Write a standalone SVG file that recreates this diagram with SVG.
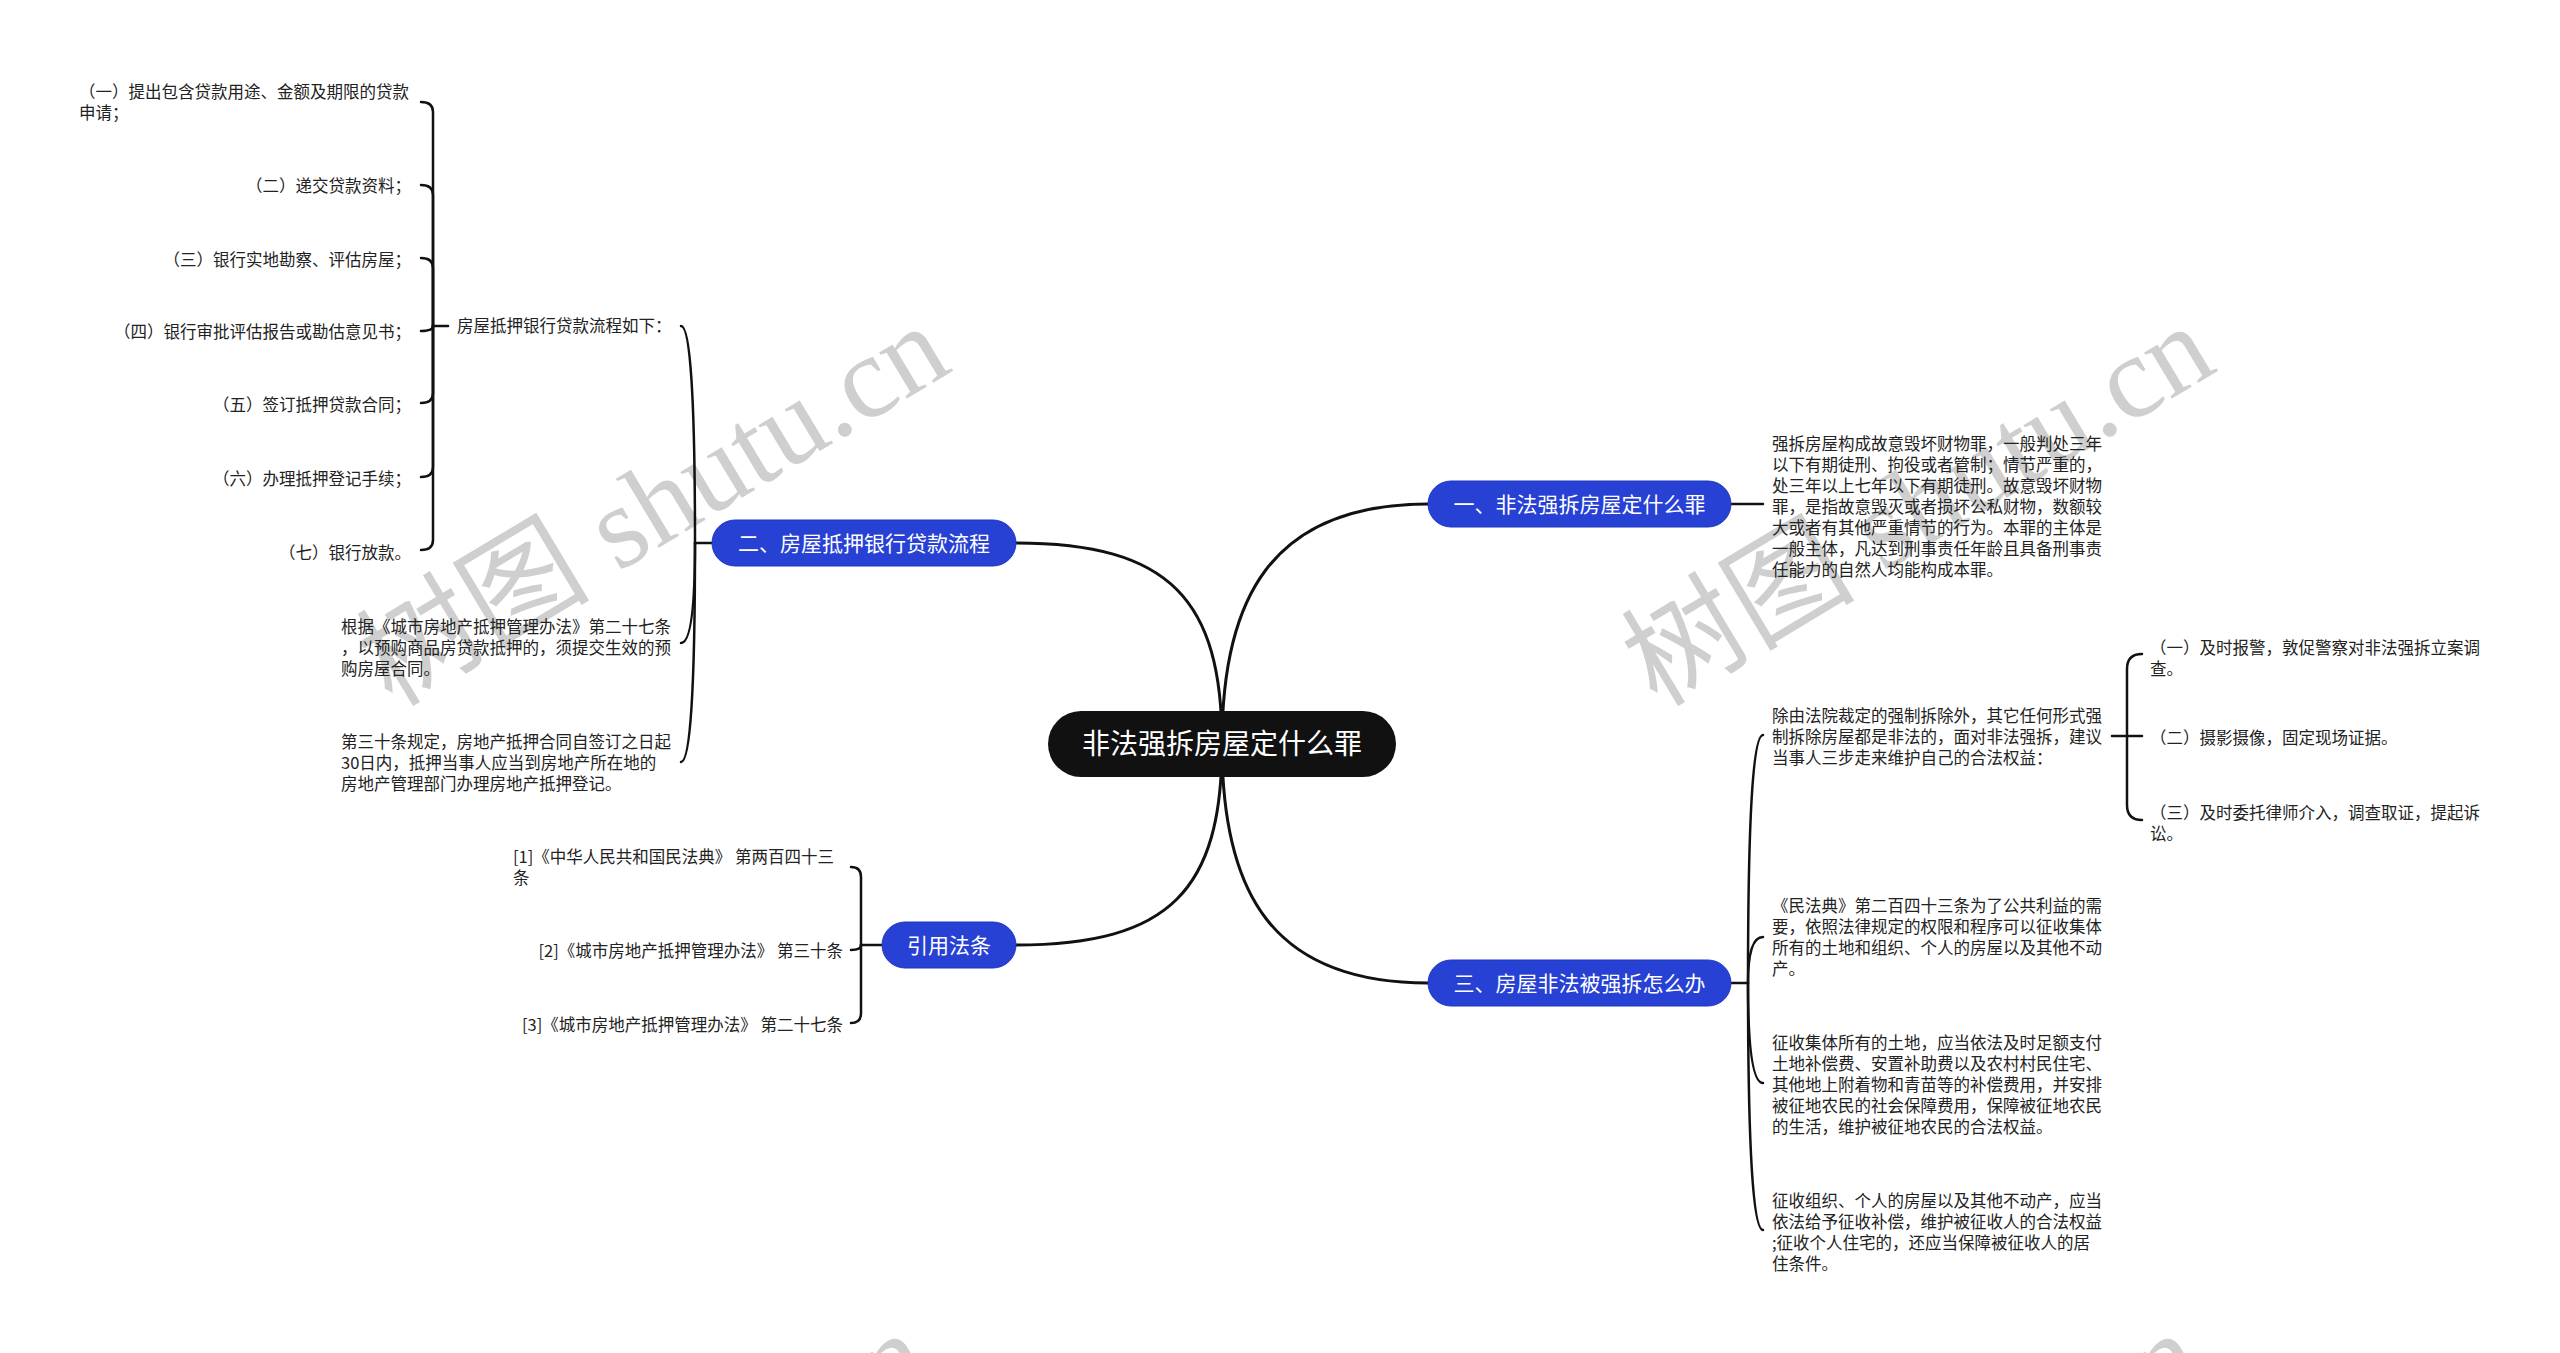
<svg xmlns="http://www.w3.org/2000/svg" width="2560" height="1353" viewBox="0 0 2560 1353">
<style>
.t{font-family:"Noto Sans CJK SC","Noto Sans",sans-serif;font-size:16.5px;fill:#222}
.r{text-anchor:end}
.ln{fill:none;stroke:#111;stroke-width:2.5;stroke-linecap:round}
.main{fill:none;stroke:#111;stroke-width:3;stroke-linecap:round}
.nb{fill:#2741d4;stroke:#1f37bd;stroke-width:1}
.nt{font-family:"Noto Sans CJK SC","Noto Sans",sans-serif;font-size:21px;fill:#fff;text-anchor:middle}
.wm{font-family:"Liberation Serif","Noto Sans CJK SC",serif;font-size:117px;fill:#cfcfcf}
</style>
<rect width="2560" height="1353" fill="#fff"/>
<g id="watermarks">
<text class="wm" transform="translate(392,708) rotate(-31)">树图 shutu.cn</text>
<text class="wm" transform="translate(1657,708) rotate(-31)">树图 shutu.cn</text>
<text class="wm" transform="translate(372,1715) rotate(-31)">树图 shutu.cn</text>
<text class="wm" transform="translate(1645,1715) rotate(-31)">树图 shutu.cn</text>
</g>
<g id="connectors">
<path class="main" d="M1222,744 C1222,600 1270,504 1428,504"/>
<path class="main" d="M1222,744 C1222,600 1170,543 1016,543"/>
<path class="main" d="M1222,744 C1222,890 1270,983 1428,983"/>
<path class="main" d="M1222,744 C1222,890 1170,945 1016,945"/>
<path class="ln" d="M1731,504 H1763"/>
<path class="ln" d="M712,543 H695"/>
<path class="ln" d="M695,543 Q695,326 681,326"/>
<path class="ln" d="M695,543 Q695,643 681,643"/>
<path class="ln" d="M695,543 Q695,762 681,762"/>
<path class="ln" d="M448,326 H433"/>
<path class="ln" d="M433,326 V112 Q433,102 421,102"/>
<path class="ln" d="M433,326 V195 Q433,185 421,185"/>
<path class="ln" d="M433,326 V268 Q433,258 421,258"/>
<path class="ln" d="M433,326 Q433,331 421,331"/>
<path class="ln" d="M433,326 V393 Q433,403 421,403"/>
<path class="ln" d="M433,326 V467 Q433,477 421,477"/>
<path class="ln" d="M433,326 V540 Q433,550 421,550"/>
<path class="ln" d="M1731,983 H1748"/>
<path class="ln" d="M1748,983 Q1748,735 1763,735"/>
<path class="ln" d="M1748,983 Q1748,937 1763,937"/>
<path class="ln" d="M1748,983 Q1748,1083 1763,1083"/>
<path class="ln" d="M1748,983 Q1748,1230 1763,1230"/>
<path class="ln" d="M2112,736 H2127"/>
<path class="ln" d="M2127,736 V669 Q2127,654 2142,654"/>
<path class="ln" d="M2127,736 H2142"/>
<path class="ln" d="M2127,736 V805 Q2127,820 2142,820"/>
<path class="ln" d="M882,945 H861"/>
<path class="ln" d="M861,945 V877 Q861,867 851,867"/>
<path class="ln" d="M861,945 Q861,950 851,950"/>
<path class="ln" d="M861,945 V1013 Q861,1023 851,1023"/>
</g>
<g id="center">
<rect x="1048" y="711" width="348" height="66" rx="33" fill="#111"/>
<text x="1222" y="754" class="nt" style="font-size:28px">非法强拆房屋定什么罪</text>
</g>
<g id="n1">
<rect class="nb" x="1428" y="481" width="303" height="46" rx="23"/>
<text class="nt" x="1579.5" y="511.5">一、非法强拆房屋定什么罪</text>
</g>
<g id="n2">
<rect class="nb" x="712" y="520" width="304" height="46" rx="23"/>
<text class="nt" x="864" y="550.5">二、房屋抵押银行贷款流程</text>
</g>
<g id="n3">
<rect class="nb" x="1428" y="960" width="303" height="46" rx="23"/>
<text class="nt" x="1579.5" y="990.5">三、房屋非法被强拆怎么办</text>
</g>
<g id="n4">
<rect class="nb" x="882" y="922" width="134" height="46" rx="23"/>
<text class="nt" x="949" y="952.5">引用法条</text>
</g>
<g id="n1c1">
<text class="t"><tspan x="1772" y="450">强拆房屋构成故意毁坏财物罪，一般判处三年</tspan><tspan x="1772" y="471">以下有期徒刑、拘役或者管制；情节严重的，</tspan><tspan x="1772" y="492">处三年以上七年以下有期徒刑。故意毁坏财物</tspan><tspan x="1772" y="513">罪，是指故意毁灭或者损坏公私财物，数额较</tspan><tspan x="1772" y="534">大或者有其他严重情节的行为。本罪的主体是</tspan><tspan x="1772" y="555">一般主体，凡达到刑事责任年龄且具备刑事责</tspan><tspan x="1772" y="576">任能力的自然人均能构成本罪。</tspan></text>
</g>
<g id="n2c1">
<text class="t r" x="671.5" y="332">房屋抵押银行贷款流程如下：</text>
</g>
<g id="n2c1a"><text class="t"><tspan x="79" y="98">（一）提出包含贷款用途、金额及期限的贷款</tspan><tspan x="79" y="119">申请；</tspan></text></g>
<g id="n2c1b"><text class="t r" x="411" y="192">（二）递交贷款资料；</text></g>
<g id="n2c1c"><text class="t r" x="411" y="266">（三）银行实地勘察、评估房屋；</text></g>
<g id="n2c1d"><text class="t r" x="411" y="338">（四）银行审批评估报告或勘估意见书；</text></g>
<g id="n2c1e"><text class="t r" x="411" y="411">（五）签订抵押贷款合同；</text></g>
<g id="n2c1f"><text class="t r" x="411" y="485">（六）办理抵押登记手续；</text></g>
<g id="n2c1g"><text class="t r" x="411" y="559">（七）银行放款。</text></g>
<g id="n2c2">
<text class="t"><tspan x="341" y="633">根据《城市房地产抵押管理办法》第二十七条</tspan><tspan x="341" y="654">，以预购商品房贷款抵押的，须提交生效的预</tspan><tspan x="341" y="675">购房屋合同。</tspan></text>
</g>
<g id="n2c3">
<text class="t"><tspan x="341" y="748">第三十条规定，房地产抵押合同自签订之日起</tspan><tspan x="341" y="769">30日内，抵押当事人应当到房地产所在地的</tspan><tspan x="341" y="790">房地产管理部门办理房地产抵押登记。</tspan></text>
</g>
<g id="n3c1">
<text class="t"><tspan x="1772" y="722">除由法院裁定的强制拆除外，其它任何形式强</tspan><tspan x="1772" y="743">制拆除房屋都是非法的，面对非法强拆，建议</tspan><tspan x="1772" y="764">当事人三步走来维护自己的合法权益：</tspan></text>
</g>
<g id="n3c1a"><text class="t"><tspan x="2150" y="654">（一）及时报警，敦促警察对非法强拆立案调</tspan><tspan x="2150" y="675">查。</tspan></text></g>
<g id="n3c1b"><text class="t" x="2150" y="744">（二）摄影摄像，固定现场证据。</text></g>
<g id="n3c1c"><text class="t"><tspan x="2150" y="819">（三）及时委托律师介入，调查取证，提起诉</tspan><tspan x="2150" y="840">讼。</tspan></text></g>
<g id="n3c2">
<text class="t"><tspan x="1772" y="912">《民法典》第二百四十三条为了公共利益的需</tspan><tspan x="1772" y="933">要，依照法律规定的权限和程序可以征收集体</tspan><tspan x="1772" y="954">所有的土地和组织、个人的房屋以及其他不动</tspan><tspan x="1772" y="975">产。</tspan></text>
</g>
<g id="n3c3">
<text class="t"><tspan x="1772" y="1049">征收集体所有的土地，应当依法及时足额支付</tspan><tspan x="1772" y="1070">土地补偿费、安置补助费以及农村村民住宅、</tspan><tspan x="1772" y="1091">其他地上附着物和青苗等的补偿费用，并安排</tspan><tspan x="1772" y="1112">被征地农民的社会保障费用，保障被征地农民</tspan><tspan x="1772" y="1133">的生活，维护被征地农民的合法权益。</tspan></text>
</g>
<g id="n3c4">
<text class="t"><tspan x="1772" y="1207">征收组织、个人的房屋以及其他不动产，应当</tspan><tspan x="1772" y="1228">依法给予征收补偿，维护被征收人的合法权益</tspan><tspan x="1772" y="1249">;征收个人住宅的，还应当保障被征收人的居</tspan><tspan x="1772" y="1270">住条件。</tspan></text>
</g>
<g id="n4c1"><text class="t"><tspan x="513" y="863">[1]《中华人民共和国民法典》 第两百四十三</tspan><tspan x="513" y="884">条</tspan></text></g>
<g id="n4c2"><text class="t r" x="843" y="957">[2]《城市房地产抵押管理办法》 第三十条</text></g>
<g id="n4c3"><text class="t r" x="843" y="1031">[3]《城市房地产抵押管理办法》 第二十七条</text></g>
</svg>
